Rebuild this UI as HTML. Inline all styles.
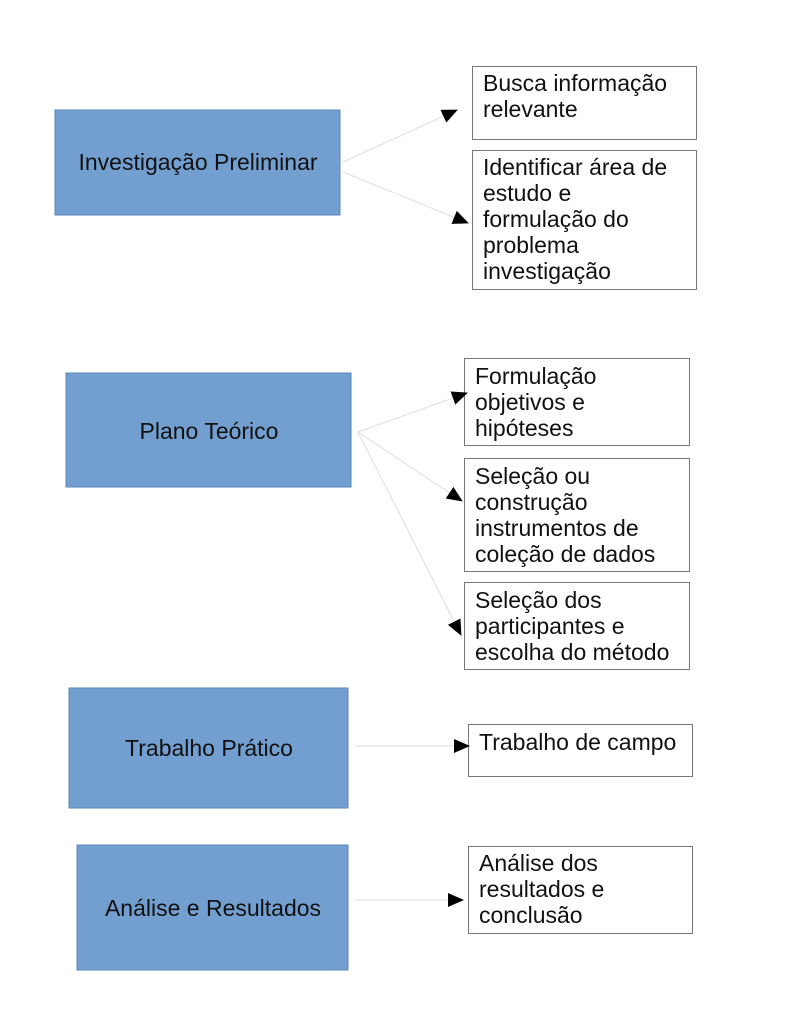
<!DOCTYPE html>
<html><head><meta charset="utf-8"><style>
html,body{margin:0;padding:0;background:#fff}
text{font-family:"Liberation Sans",sans-serif;font-size:23px;fill:#111}
</style></head><body>
<svg width="791" height="1023" xmlns="http://www.w3.org/2000/svg">
<defs><marker id="b" markerWidth="16" markerHeight="14" refX="15" refY="7" orient="auto" markerUnits="userSpaceOnUse"><path d="M0,0 L16,7 L0,14 z" fill="#000"/></marker></defs>
<g fill="#729fcf" stroke="#5b87bb" stroke-width="1">
<rect x="55" y="110" width="285" height="105"/>
<rect x="66" y="373" width="285" height="114"/>
<rect x="69" y="688" width="279" height="120"/>
<rect x="77" y="845" width="271" height="125"/>
</g>
<g fill="#fff" stroke="#777" stroke-width="1">
<rect x="472.5" y="66.5" width="224" height="73"/>
<rect x="472.5" y="150.5" width="224" height="139"/>
<rect x="464.5" y="358.5" width="225" height="87"/>
<rect x="464.5" y="458.5" width="225" height="113"/>
<rect x="464.5" y="582.5" width="225" height="87"/>
<rect x="468.5" y="724.5" width="224" height="52"/>
<rect x="468.5" y="846.5" width="224" height="87"/>
</g>
<g stroke="#ddd" stroke-width="1" marker-end="url(#b)">
<line x1="343" y1="162" x2="457" y2="110"/>
<line x1="343" y1="172" x2="468" y2="223"/>
<line x1="358" y1="432" x2="467" y2="393"/>
<line x1="358" y1="432" x2="462" y2="501"/>
<line x1="358" y1="432" x2="461" y2="635"/>
<line x1="355" y1="746" x2="469" y2="746"/>
<line x1="355" y1="900" x2="463" y2="900"/>
</g>
<text x="198" y="170" text-anchor="middle">Investigação Preliminar</text>
<text x="209" y="439" text-anchor="middle">Plano Teórico</text>
<text x="209" y="756" text-anchor="middle">Trabalho Prático</text>
<text x="213" y="916" text-anchor="middle">Análise e Resultados</text>
<text x="483" y="91">Busca informação</text><text x="483" y="117">relevante</text>
<text x="483" y="175">Identificar área de</text><text x="483" y="201">estudo e</text><text x="483" y="227">formulação do</text><text x="483" y="253">problema</text><text x="483" y="279">investigação</text>
<text x="475" y="384">Formulação</text><text x="475" y="410">objetivos e</text><text x="475" y="436">hipóteses</text>
<text x="475" y="484">Seleção ou</text><text x="475" y="510">construção</text><text x="475" y="536">instrumentos de</text><text x="475" y="562">coleção de dados</text>
<text x="475" y="608">Seleção dos</text><text x="475" y="634">participantes e</text><text x="475" y="660">escolha do método</text>
<text x="479" y="750">Trabalho de campo</text>
<text x="479" y="871">Análise dos</text><text x="479" y="897">resultados e</text><text x="479" y="923">conclusão</text>
</svg>
</body></html>
